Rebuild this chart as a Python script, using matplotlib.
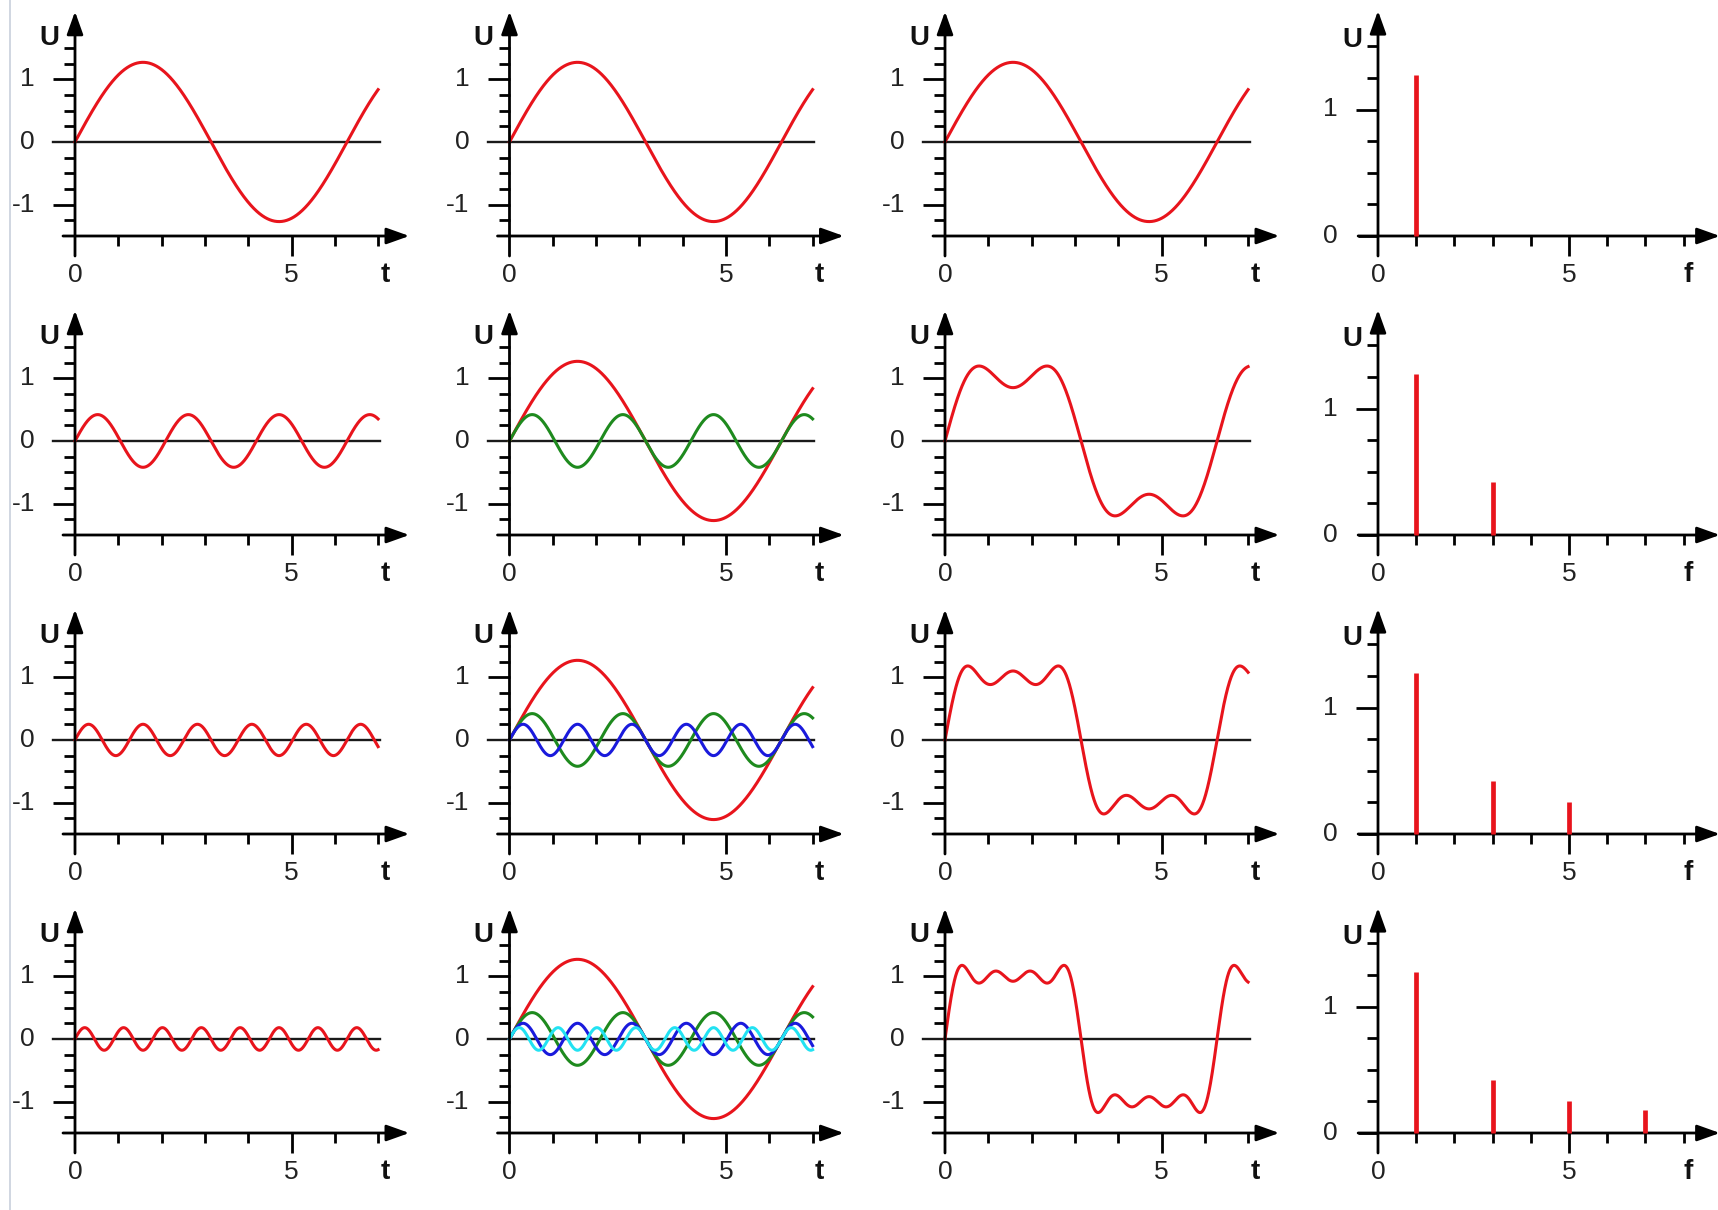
import numpy as np
import matplotlib.pyplot as plt
from matplotlib.lines import Line2D

plt.rcParams['font.family'] = ['Liberation Sans', 'DejaVu Sans']

# harmonics of the square wave
harmonics = [1, 3, 5, 7]
amplitudes = [1.27, 0.42, 0.25, 0.18]
wave_colors = ['#e8141c', '#1e8a1e', '#1a1adc', '#22e2f2']

t_max = 7.0
time_xticks = [1, 2, 3, 4, 5, 6, 7]
time_yticks_major = [-1, 1]
time_yticks_minor = [-1.25, -0.75, -0.5, -0.25, 0.25, 0.5, 0.75, 1.25, 1.5]
time_ylabels = ['1', '0', '-1']
freq_xticks = [1, 2, 3, 4, 5, 6, 7, 8]
freq_yticks_major = [1]
freq_yticks_minor = [0.25, 0.5, 0.75, 1.25, 1.5]
freq_ylabels = ['1', '0']

W, H = 1718, 1210
fig = plt.figure(figsize=(W / 100, H / 100), dpi=100)

col_x = [75, 509.5, 945, 1378]     # pixel x of the vertical axis
row_y = [236, 535, 834, 1133]      # pixel y of the horizontal axis

FS = 19
arrow = dict(arrowstyle='-|>,head_length=0.42,head_width=0.15', mutation_scale=33,
             lw=2.0, color='black', shrinkA=0, shrinkB=0)
line_kw = dict(color='black', lw=2.0, solid_capstyle='butt', clip_on=False)


def make_axes(x0, yaxis_px, sx, sy, ybase, xlim, ylim):
    left = x0 + xlim[0] * sx
    right = x0 + xlim[1] * sx
    top = yaxis_px - (ylim[1] - ybase) * sy
    bottom = yaxis_px + (ybase - ylim[0]) * sy
    ax = fig.add_axes([left / W, 1 - bottom / H, (right - left) / W, (bottom - top) / H])
    ax.set_xlim(xlim)
    ax.set_ylim(ylim)
    ax.axis('off')
    return ax


def draw_frame(ax, sx, sy, ybase, x_start, x_end, y_end, xticks, ymaj, ymin,
               ylabels, ylab_pos, xname, u_y):
    ax.annotate('', xy=(0, y_end), xytext=(0, ybase - 20 / sy), arrowprops=arrow,
                annotation_clip=False)
    ax.annotate('', xy=(x_end, ybase), xytext=(x_start, ybase), arrowprops=arrow,
                annotation_clip=False)
    for y in ymin:
        ax.plot([-11 / sx, 0], [y, y], **line_kw)
    for y in ymaj:
        ax.plot([-22 / sx, 0], [y, y], **line_kw)
    for x in xticks:
        ln = 20 if x == 5 else 10
        ax.plot([x, x], [ybase, ybase - ln / sy], **line_kw)
    for lab, y in zip(ylabels, ylab_pos):
        ax.text(-40 / sx, y, lab, ha='right', va='center', fontsize=FS, color='#222')
    ylab = ybase - 39 / sy
    ax.text(0, ylab, '0', ha='center', va='center', fontsize=FS, color='#222')
    ax.text(5, ylab, '5', ha='center', va='center', fontsize=FS, color='#222')
    ax.text(310 / sx, ylab, xname, ha='center', va='center', fontsize=FS + 1,
            fontweight='bold', color='#111')
    ax.text(-26 / sx, u_y, 'U', ha='center', va='center', fontsize=FS + 1,
            fontweight='bold', color='#111')


t = np.linspace(0, t_max, 1000)
sx_t, sy_t = 43.3, 62.7
sx_f, sy_f = 38.2, 126.5

for row in range(4):
    # time panels
    for col in range(3):
        ax = make_axes(col_x[col], row_y[row], sx_t, sy_t, -1.5, (-1.6, 7.8), (-2.3, 2.2))
        draw_frame(ax, sx_t, sy_t, -1.5, -12 / sx_t, 7.72, 2.08, time_xticks,
                   time_yticks_major, time_yticks_minor, time_ylabels, [1, 0, -1], 't', 1.65)
        ax.plot([-22 / sx_t, 7.04], [0, 0], color='#1a1a1a', lw=1.7, clip_on=False)
        if col == 0:
            u = amplitudes[row] * np.sin(harmonics[row] * t)
            ax.plot(t, u, color=wave_colors[0], lw=2.2, clip_on=False)
        elif col == 1:
            for k in range(row + 1):
                u = amplitudes[k] * np.sin(harmonics[k] * t)
                ax.plot(t, u, color=wave_colors[k], lw=2.2, clip_on=False)
        else:
            u = sum(amplitudes[k] * np.sin(harmonics[k] * t) for k in range(row + 1))
            ax.plot(t, u, color=wave_colors[0], lw=2.2, clip_on=False)

    # spectrum panel
    ax = make_axes(col_x[3], row_y[row], sx_f, sy_f, 0, (-1.6, 8.95), (-0.45, 1.85))
    draw_frame(ax, sx_f, sy_f, 0, -0.52, 8.95, 1.78, freq_xticks,
               freq_yticks_major, freq_yticks_minor, freq_ylabels, [1, 0], 'f', 1.55)
    ax.plot([-20 / sx_f, 0], [0, 0], **line_kw)
    ax.vlines(harmonics[:row + 1], 0, amplitudes[:row + 1], color=wave_colors[0],
              lw=3.4, capstyle='butt', zorder=3)

# faint window edge at the far left of the screenshot
fig.add_artist(Line2D([9.5 / W, 9.5 / W], [0, 1], color='#c8d0dc', lw=1.2))

fig.savefig('out.png', dpi=100, facecolor='white')
